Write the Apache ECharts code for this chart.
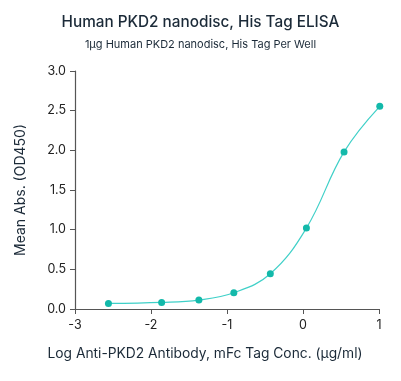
<!DOCTYPE html>
<html><head><meta charset="utf-8">
<script src="https://cdn.jsdelivr.net/npm/echarts@6/dist/echarts.min.js"></script>
<style>html,body{margin:0;padding:0;background:#fff}#c{width:401px;height:381px}</style>
</head><body><div id="c"></div>
<script>
const logConc = [-2.56, -1.86, -1.37, -0.91, -0.43, 0.045, 0.54, 1.01];
const meanAbs = [0.07, 0.083, 0.113, 0.205, 0.445, 1.02, 1.98, 2.555];
const yTicks = [0, 0.5, 1.0, 1.5, 2.0, 2.5, 3.0];
const xTicks = [-3, -2, -1, 0, 1];

const font = 'Inter, "Noto Sans", sans-serif';
const chart = echarts.init(document.getElementById('c'), null, {renderer: 'canvas'});
chart.setOption({
  animation: false,
  backgroundColor: '#fff',
  title: [{
    text: 'Human PKD2 nanodisc, His Tag ELISA',
    left: 'center', top: 10,
    textStyle: {fontFamily: font, fontSize: 15.3, fontWeight: 500, color: '#1b2a38'}
  }, {
    text: '1μg Human PKD2 nanodisc, His Tag Per Well',
    left: 'center', top: 34,
    textStyle: {fontFamily: font, fontSize: 11, fontWeight: 400, color: '#1b2a38'}
  }],
  grid: {left: 75, right: 22, top: 71, bottom: 72},
  xAxis: {
    type: 'value', min: xTicks[0], max: xTicks[xTicks.length - 1], interval: 1,
    name: 'Log Anti-PKD2 Antibody, mFc Tag Conc. (μg/ml)',
    nameLocation: 'middle', nameGap: 38,
    nameTextStyle: {fontFamily: font, fontSize: 13.8, color: '#1b2a38', padding: [0, 44, 0, 0]},
    axisLine: {onZero: false, lineStyle: {color: '#555', width: 1.2}},
    axisTick: {show: true, length: 5, lineStyle: {color: '#555'}},
    axisLabel: {fontFamily: font, fontSize: 12.5, color: '#222', margin: 10},
    splitLine: {show: false}
  },
  yAxis: {
    type: 'value', min: yTicks[0], max: yTicks[yTicks.length - 1], interval: 0.5,
    name: 'Mean Abs. (OD450)',
    nameLocation: 'middle', nameGap: 47,
    nameTextStyle: {fontFamily: font, fontSize: 14, color: '#1b2a38'},
    axisLine: {show: true, onZero: false, lineStyle: {color: '#555', width: 1.2}},
    axisTick: {show: true, length: 5, lineStyle: {color: '#555'}},
    axisLabel: {fontFamily: font, fontSize: 12.5, color: '#222', margin: 9,
      formatter: v => v.toFixed(1)},
    splitLine: {show: false}
  },
  series: [{
    type: 'line',
    data: logConc.map((x, i) => [x, meanAbs[i]]),
    smooth: 0.4,
    clip: false,
    showSymbol: true,
    symbol: 'circle', symbolSize: 7,
    lineStyle: {color: '#3fd0c8', width: 1.2},
    itemStyle: {color: '#13b9aa'}
  }]
});
</script></body></html>
